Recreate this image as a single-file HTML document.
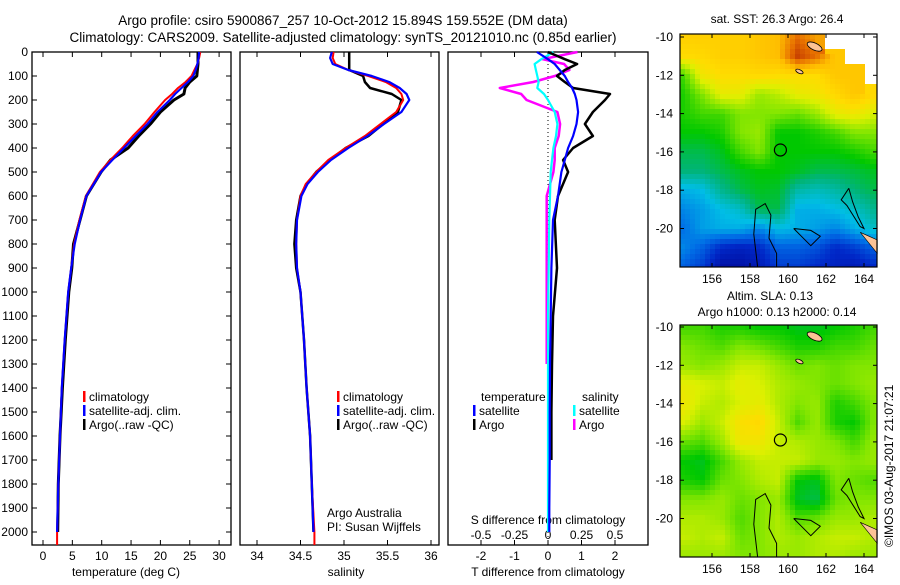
<!DOCTYPE html>
<html><head><meta charset="utf-8"><style>
body{margin:0;background:#fff;}
svg text{font-family:"Liberation Sans",sans-serif;fill:#000;}
</style></head><body>
<svg id="c" width="900" height="580" xmlns="http://www.w3.org/2000/svg"></svg>
<script>
// ---------- data ----------
const tDepth=[0,25,50,75,100,125,150,175,200,250,300,350,400,450,500,600,700,800,900,1000,1200,1400,1600,1800,2000];
const tClim=[26.8,26.6,26.3,25.8,25.3,24.3,23.0,22.0,20.8,19.0,17.3,15.3,13.5,11.5,9.7,7.3,6.2,5.3,4.8,4.3,3.7,3.2,2.9,2.6,2.4];
const tSat=[26.6,26.5,26.3,26.0,25.6,24.7,23.6,22.5,21.6,19.5,17.8,15.8,13.8,11.8,9.9,7.4,6.3,5.4,4.8,4.3,3.7,3.2,2.9,2.6,2.4];
const tArgo=[26.4,26.4,26.4,26.3,26.2,25.0,24.2,24.0,22.3,20.0,18.3,16.3,14.5,11.5,9.9,7.4,6.3,5.2,4.9,4.4,3.8,3.3,2.9,2.6,2.5];
const sDepth=[0,25,50,75,100,125,150,175,200,250,300,350,400,450,500,550,600,700,800,900,1000,1200,1400,1600,1800,2000];
const sClim=[34.88,34.87,34.9,35.05,35.28,35.48,35.6,35.66,35.68,35.6,35.42,35.24,35.02,34.82,34.68,34.56,34.5,34.46,34.45,34.46,34.5,34.54,34.57,34.61,34.63,34.66];
const sSat=[34.86,34.84,34.87,35.05,35.32,35.52,35.64,35.72,35.75,35.66,35.46,35.27,35.05,34.85,34.7,34.58,34.51,34.46,34.45,34.46,34.5,34.54,34.57,34.61,34.63,34.65];
const sArgo=[35.06,35.06,35.06,35.06,35.22,35.24,35.3,35.55,35.66,35.62,35.45,35.28,35.02,34.84,34.68,34.57,34.5,34.45,34.43,34.45,34.5,34.54,34.57,34.61,34.63,34.65];
const dDepth=[0,30,50,75,100,125,150,175,200,250,300,350,400,450,500,600,700,900,1100,1300,1500,1700,1900,2000];
const dTSat=[-0.33,0.0,0.2,0.35,0.5,0.6,0.72,0.8,0.85,0.9,0.85,0.75,0.6,0.5,0.4,0.3,0.15,0.1,0.08,0.06,0.05,0.05,0.04,0.04];
const dTArgo=[0,0.5,0.87,0.5,0.27,0.5,0.75,1.85,1.7,1.34,1.1,1.34,0.75,0.45,0.6,0.3,0.2,0.27,0.15,0.12,0.1,0.1,null,null];
const dSSat=[0.04,-0.05,-0.1,-0.09,-0.08,-0.07,-0.08,-0.03,0.0,0.05,0.07,0.06,0.04,0.03,0.02,0.015,0.01,0.005,0,0,0,0,0,0];
const dSArgo=[0.22,-0.04,0.12,0.16,0.05,-0.11,-0.36,-0.2,-0.16,0.07,0.09,0.08,0.05,0.05,0.04,-0.01,-0.01,-0.01,-0.01,-0.01,null,null,null,null];
const depthTicks=[0,100,200,300,400,500,600,700,800,900,1000,1100,1200,1300,1400,1500,1600,1700,1800,1900,2000];
const tTicks=[0,5,10,15,20,25,30];
const sTicks=[34,34.5,35,35.5,36];
const sTickLabels=["34","34.5","35","35.5","36"];
const dtTicks=[-2,-1,0,1,2];
const dsTicks=[-0.5,-0.25,0,0.25,0.5];
const dsTickLabels=["-0.5","-0.25","0","0.25","0.5"];
// SST grid: rows lat -10..-22, cols lon 154.5..164.5
const sstGrid=[
[.78,.78,.78,.78,.8,.82,.9,.85,null,null,null],
[.75,.76,.78,.78,.8,.82,.95,.9,.8,null,null],
[.55,.72,.75,.75,.76,.75,.75,.75,.8,.8,null],
[.52,.6,.7,.7,.62,.65,.7,.72,.76,.8,.76],
[.52,.55,.55,.6,.6,.6,.58,.62,.7,.72,.68],
[.5,.5,.52,.6,.62,.5,.5,.52,.55,.6,.6],
[.45,.45,.48,.55,.6,.5,.5,.5,.5,.52,.55],
[.42,.42,.45,.48,.5,.5,.48,.45,.45,.46,.48],
[.3,.32,.4,.45,.48,.47,.38,.36,.38,.42,.45],
[.25,.28,.32,.35,.45,.45,.3,.3,.32,.35,.4],
[.22,.28,.3,.3,.25,.32,.3,.28,.25,.3,.35],
[.25,.2,.12,.1,.12,.2,.2,.18,.12,.15,.2],
[.2,.15,.05,.05,.08,.15,.15,.12,.1,.08,.12]];
// SLA grid: rows lat -9..-22
const slaGrid=[
[.52,.52,.5,.5,.52,.5,.48,.48,.5,.5,.52],
[.55,.55,.52,.52,.5,.5,.48,.48,.5,.52,.55],
[.6,.58,.56,.6,.58,.55,.52,.52,.55,.55,.58],
[.62,.6,.62,.66,.66,.62,.58,.6,.58,.6,.6],
[.7,.68,.66,.7,.68,.64,.62,.6,.58,.6,.62],
[.72,.66,.64,.68,.7,.64,.6,.62,.52,.55,.6],
[.68,.62,.66,.74,.76,.66,.56,.62,.52,.5,.6],
[.58,.56,.62,.72,.72,.66,.64,.62,.6,.55,.62],
[.5,.48,.55,.62,.66,.66,.66,.62,.62,.6,.62],
[.52,.5,.58,.6,.64,.66,.5,.48,.6,.58,.56],
[.6,.6,.62,.58,.6,.62,.48,.45,.58,.6,.6],
[.64,.64,.62,.56,.6,.64,.56,.58,.62,.62,.64],
[.66,.64,.66,.58,.6,.64,.62,.64,.66,.66,.64],
[.62,.62,.62,.6,.6,.62,.62,.64,.64,.62,.62]];
const lonTicks=[156,158,160,162,164];
const latTicks=[-10,-12,-14,-16,-18,-20];
const argoPos=[159.6,-15.9];

// ---------- helpers ----------
const NS="http://www.w3.org/2000/svg";
const svg=document.getElementById('c');
function mk(tag,at,parent){const e=document.createElementNS(NS,tag);for(const k in at)e.setAttribute(k,at[k]);(parent||svg).appendChild(e);return e;}
function txt(x,y,s,size,anchor,parent){const t=mk('text',{x:x,y:y,'font-size':size||12,'text-anchor':anchor||'middle'},parent);t.textContent=s;return t;}
const yD=d=>52+d*0.24;
const xT=v=>43+v*5.87;
const xS=v=>257+(v-34)*87;
const xDT=v=>548+v*33.5;
const xDS=v=>548+v*134;
function line(depths,vals,fx,color,w,name){
  let d='',pen=false;
  for(let i=0;i<depths.length;i++){const v=vals[i];if(v===null){pen=false;continue;}
    d+=(pen?'L':'M')+fx(v).toFixed(1)+' '+yD(depths[i]).toFixed(1)+' ';pen=true;}
  const p=mk('path',{d:d,fill:'none',stroke:color,'stroke-width':w,'stroke-linejoin':'round'});
  
  
  return p;
}

// ---------- titles ----------
let t=txt(343,25,'Argo profile: csiro 5900867_257 10-Oct-2012 15.894S 159.552E (DM data)',13.5);

t=txt(343,42,'Climatology: CARS2009. Satellite-adjusted climatology: synTS_20121010.nc (0.85d earlier)',13.5);


// ---------- panel frames ----------
const panels=[[32,231,'temperature-panel'],[240,439,'salinity-panel'],[448,648,'difference-panel']];
panels.forEach(p=>{const r=mk('rect',{x:p[0],y:52,width:p[1]-p[0],height:493,fill:'none',stroke:'#000','stroke-width':1.3});
 });
depthTicks.forEach(d=>{const y=yD(d);
 txt(28,y+4,String(d),12,'end');
 mk('line',{x1:32,x2:37,y1:y,y2:y,stroke:'#000'});mk('line',{x1:226,x2:231,y1:y,y2:y,stroke:'#000'});
});
tTicks.forEach(v=>{const x=xT(v);mk('line',{x1:x,x2:x,y1:52,y2:57,stroke:'#000'});mk('line',{x1:x,x2:x,y1:540,y2:545,stroke:'#000'});
 txt(x,560,String(v),12);});
t=txt(126,576,'temperature (deg C)',12);
sTicks.forEach((v,i)=>{const x=xS(v);mk('line',{x1:x,x2:x,y1:52,y2:57,stroke:'#000'});mk('line',{x1:x,x2:x,y1:540,y2:545,stroke:'#000'});
 txt(x,560,sTickLabels[i],12);});
t=txt(346,576,'salinity',12);
dtTicks.forEach(v=>{const x=xDT(v);mk('line',{x1:x,x2:x,y1:52,y2:57,stroke:'#000'});mk('line',{x1:x,x2:x,y1:540,y2:545,stroke:'#000'});
 txt(x,560,String(v),12);});
dsTicks.forEach((v,i)=>{txt(xDS(v),539,dsTickLabels[i],12);});
t=txt(548,524,'S difference from climatology',12);
t=txt(548,576,'T difference from climatology',12);
mk('line',{x1:548,x2:548,y1:52,y2:545,stroke:'#000','stroke-dasharray':'1,3'});

// ---------- series ----------
line(tDepth,tArgo,xT,'#000',3,'temperature-argo-line');
line(tDepth,tClim,xT,'#f00',2,'temperature-climatology-line');
line(tDepth,tSat,xT,'#00f',2.2,'temperature-satellite-line');
line(sDepth,sArgo,xS,'#000',2.5,'salinity-argo-line');
line(sDepth,sClim,xS,'#f00',2,'salinity-climatology-line');
line(sDepth,sSat,xS,'#00f',2.2,'salinity-satellite-line');
line(dDepth,dSArgo,xDS,'#f0f',2.5,'s-diff-argo-line');
line(dDepth,dSSat,xDS,'#0ff',2.2,'s-diff-satellite-line');
line(dDepth,dTArgo,xDT,'#000',2.5,'t-diff-argo-line');
line(dDepth,dTSat,xDT,'#00f',2.2,'t-diff-satellite-line');
mk('line',{x1:xT(2.4),x2:xT(2.4),y1:yD(2000),y2:545,stroke:'#f00','stroke-width':2});
mk('line',{x1:xS(34.66),x2:xS(34.66),y1:yD(2000),y2:545,stroke:'#f00','stroke-width':2});

// ---------- legends ----------
function leg(x,y,color,label,name){mk('rect',{x:x,y:y-6,width:2.5,height:11,fill:color});
 const g=txt(x+6,y+4,label,12,'start');}
leg(83,397,'#f00','climatology','legend-climatology');
leg(83,411,'#00f','satellite-adj. clim.','legend-satellite');
leg(83,425,'#000','Argo(..raw -QC)','legend-argo');
leg(337,397,'#f00','climatology','legend-climatology-2');
leg(337,411,'#00f','satellite-adj. clim.','legend-satellite-2');
leg(337,425,'#000','Argo(..raw -QC)','legend-argo-2');
t=txt(481,401,'temperature',12,'start');
t=txt(582,401,'salinity',12,'start');
leg(473,411,'#00f','satellite','legend-t-satellite');
leg(473,425,'#000','Argo','legend-t-argo');
leg(573,411,'#0ff','satellite','legend-s-satellite');
leg(573,425,'#f0f','Argo','legend-s-argo');
t=txt(327,517,'Argo Australia',12,'start');
t=txt(327,531,'PI: Susan Wijffels',12,'start');

// ---------- maps ----------
const stops=[[0,[0,0,140]],[0.12,[0,40,200]],[0.22,[0,110,230]],[0.32,[0,190,230]],[0.42,[0,180,120]],[0.5,[0,200,0]],[0.6,[130,230,0]],[0.68,[220,240,0]],[0.75,[255,220,0]],[0.82,[255,190,0]],[0.9,[230,110,0]],[1,[170,20,0]]];
function col(v){for(let i=1;i<stops.length;i++){if(v<=stops[i][0]){const a=stops[i-1],b=stops[i],f=(v-a[0])/(b[0]-a[0]);
 return 'rgb('+a[1].map((c,k)=>Math.round(c+(b[1][k]-c)*f)).join(',')+')';}}return 'rgb(170,20,0)';}
function drawMap(grid,lat0,x0,x1,y0,y1,latRef,yRef,name){
  const lonX=lon=>712+(lon-156)*19;
  const latY=lat=>yRef+(latRef-lat)*19.15;
  const g=mk('g',{});
  const step=5;
  for(let y=y0;y<y1;y+=step)for(let x=x0;x<x1;x+=step){
    const lon=156+(x+step/2-712)/19, lat=latRef-(y+step/2-yRef)/19.15;
    let fr=lat0-lat, fc=lon-154.5;
    fr=Math.max(0,Math.min(grid.length-1.001,fr));fc=Math.max(0,Math.min(10.999,fc));
    const r=Math.floor(fr),c=Math.floor(fc),a=fr-r,b=fc-c;
    const c2=Math.min(10,c+1),r2=Math.min(grid.length-1,r+1);
    const q=[grid[r][c],grid[r][c2],grid[r2][c],grid[r2][c2]];
    let v;
    if(q.some(z=>z===null)){const n=[[r,c],[r,c2],[r2,c],[r2,c2]][(a<.5?0:2)+(b<.5?0:1)];v=grid[n[0]][n[1]];if(v===null)continue;}
    else v=q[0]*(1-a)*(1-b)+q[1]*(1-a)*b+q[2]*a*(1-b)+q[3]*a*b;
    mk('rect',{x:x,y:y,width:Math.min(step,x1-x),height:Math.min(step,y1-y),fill:col(v)},g);
  }
  mk('rect',{x:x0,y:y0,width:x1-x0,height:y1-y0,fill:'none',stroke:'#000','stroke-width':1.2});
  lonTicks.forEach(l=>{const x=lonX(l);mk('line',{x1:x,x2:x,y1:y0,y2:y0+4,stroke:'#000'});mk('line',{x1:x,x2:x,y1:y1-4,y2:y1,stroke:'#000'});
    txt(x,y1+16,String(l),12);});
  latTicks.forEach(l=>{const y=latY(l);mk('line',{x1:x0,x2:x0+4,y1:y,y2:y,stroke:'#000'});mk('line',{x1:x1-4,x2:x1,y1:y,y2:y,stroke:'#000'});
    txt(673,y+4,String(l),12,'end');});
  const cs=[[[158.4,-22],[158.2,-20.3],[158.3,-19],[158.8,-18.7],[159.1,-19.3],[159.0,-20.5],[159.4,-21.3],[159.4,-22]],
            [[160.3,-20],[161.2,-20.1],[161.7,-20.4],[161.2,-20.9],[160.7,-20.4],[160.3,-20]],
            [[163.2,-17.9],[163.4,-18.6],[163.7,-19.4],[164.0,-20.0],[163.8,-19.9],[163.1,-18.8],[162.8,-18.5],[163.2,-17.9]]];
  cs.forEach(p=>mk('path',{d:'M'+p.map(q=>lonX(q[0]).toFixed(1)+' '+latY(q[1]).toFixed(1)).join('L'),fill:'none',stroke:'#000','stroke-width':1},g));
  mk('path',{d:`M${lonX(163.8)} ${latY(-20.2)} L${lonX(164.7)} ${latY(-20.6)} L${lonX(164.7)} ${latY(-21.3)} Z`,fill:'#fcc396',stroke:'#000','stroke-width':.6},g);
  mk('ellipse',{cx:lonX(161.4),cy:latY(-10.5),rx:8,ry:3.5,transform:`rotate(25 ${lonX(161.4)} ${latY(-10.5)})`,fill:'#fcc396',stroke:'#000','stroke-width':.8},g);
  mk('ellipse',{cx:lonX(160.6),cy:latY(-11.8),rx:4,ry:1.8,transform:`rotate(25 ${lonX(160.6)} ${latY(-11.8)})`,fill:'#fcc396',stroke:'#000','stroke-width':.8},g);
  const c=mk('circle',{cx:lonX(argoPos[0]),cy:latY(argoPos[1]),r:6,fill:'none',stroke:'#000','stroke-width':1.2});
  
}
drawMap(sstGrid,-10,680,877,34,267,-10,37,'sst-map');
drawMap(slaGrid,-9,680,877,325,557,-10,327,'sla-map');
t=txt(777,23,'sat. SST: 26.3 Argo: 26.4',12);
t=txt(770,300,'Altim. SLA: 0.13',12);
t=txt(777,316,'Argo h1000: 0.13 h2000: 0.14',12);
t=txt(0,0,'©IMOS 03-Aug-2017 21:07:21',12,'start');t.setAttribute('transform','translate(893 547) rotate(-90)');

</script>
</body></html>
